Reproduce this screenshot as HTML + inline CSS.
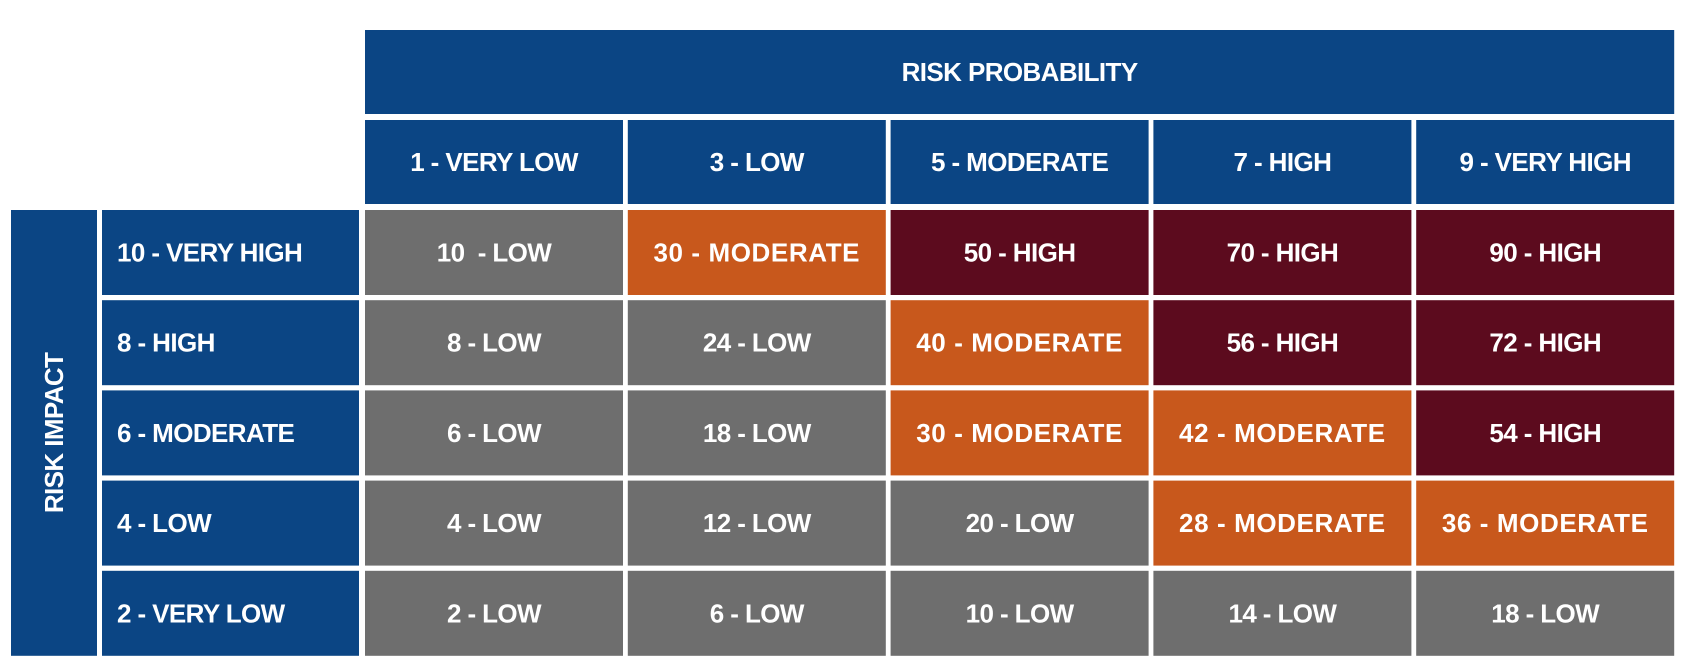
<!DOCTYPE html>
<html><head><meta charset="utf-8"><style>
body{margin:0;width:1682px;height:666px;background:#fff;overflow:hidden;font-family:"Liberation Sans",Arial,sans-serif;}
svg text{font-weight:bold;fill:#fff;}
</style></head><body>
<svg id="chart" width="1682" height="666" xmlns="http://www.w3.org/2000/svg"></svg>
<script>
const probLabels=["1 - VERY LOW","3 - LOW","5 - MODERATE","7 - HIGH","9 - VERY HIGH"];
const probValues=[1,3,5,7,9];
const impactLabels=["10 - VERY HIGH","8 - HIGH","6 - MODERATE","4 - LOW","2 - VERY LOW"];
const impactValues=[10,8,6,4,2];
const cellLevels=[
["LOW","MODERATE","HIGH","HIGH","HIGH"],
["LOW","LOW","MODERATE","HIGH","HIGH"],
["LOW","LOW","MODERATE","MODERATE","HIGH"],
["LOW","LOW","LOW","MODERATE","MODERATE"],
["LOW","LOW","LOW","LOW","LOW"]];
const NS="http://www.w3.org/2000/svg";
const svg=document.getElementById('chart');
const BLUE="#0b4584",colors={LOW:"#6e6e6e",MODERATE:"#c8581c",HIGH:"#5c0b1e"};
const x0=365,colPitch=262.8,colW=258,y0=210,rowPitch=90.2,rowH=85;
const colX=i=>x0+i*colPitch, rowY=j=>y0+j*rowPitch;
function rect(x,y,w,h,fill,name){const r=document.createElementNS(NS,'rect');r.setAttribute('x',x);r.setAttribute('y',y);r.setAttribute('width',w);r.setAttribute('height',h);r.setAttribute('fill',fill);


svg.appendChild(r);return r;}
function text(x,y,s,name,anchor,ls){const t=document.createElementNS(NS,'text');t.setAttribute('x',x);t.setAttribute('y',y);t.setAttribute('font-size','26');t.setAttribute('text-anchor',anchor||'middle');t.setAttribute('dominant-baseline','central');t.setAttribute('letter-spacing',ls||'-0.6');t.setAttribute('xml:space','preserve');t.style.whiteSpace='pre';t.textContent=s;


svg.appendChild(t);return t;}
const lastX=colX(4)+colW;
rect(x0,30,lastX-x0,84,BLUE,'probability-title-bg');
text((x0+lastX)/2,72,"RISK PROBABILITY",'probability-title');
probLabels.forEach((l,i)=>{rect(colX(i),120,colW,84,BLUE,'probability-header-bg');text(colX(i)+colW/2,162,l,'probability-header');});
rect(11,y0,86,rowY(4)+rowH-y0,BLUE,'impact-title-bg');
const it=text(54,(y0+rowY(4)+rowH)/2,"RISK IMPACT",'impact-title');
it.setAttribute('transform',`rotate(-90 54 ${(y0+rowY(4)+rowH)/2})`);
impactLabels.forEach((l,j)=>{rect(102,rowY(j),257,rowH,BLUE,'impact-header-bg');text(117,rowY(j)+rowH/2,l,'impact-header','start');});
impactValues.forEach((iv,j)=>probValues.forEach((pv,i)=>{
 const lvl=cellLevels[j][i];
 rect(colX(i),rowY(j),colW,rowH,colors[lvl],'risk-cell');
 const label=(iv*pv)+(iv===10&&pv===1?"  - ":" - ")+lvl;
 text(colX(i)+colW/2,rowY(j)+rowH/2,label,'risk-cell-label','middle',lvl==="MODERATE"?"0.6":null);
}));
</script>
</body></html>
